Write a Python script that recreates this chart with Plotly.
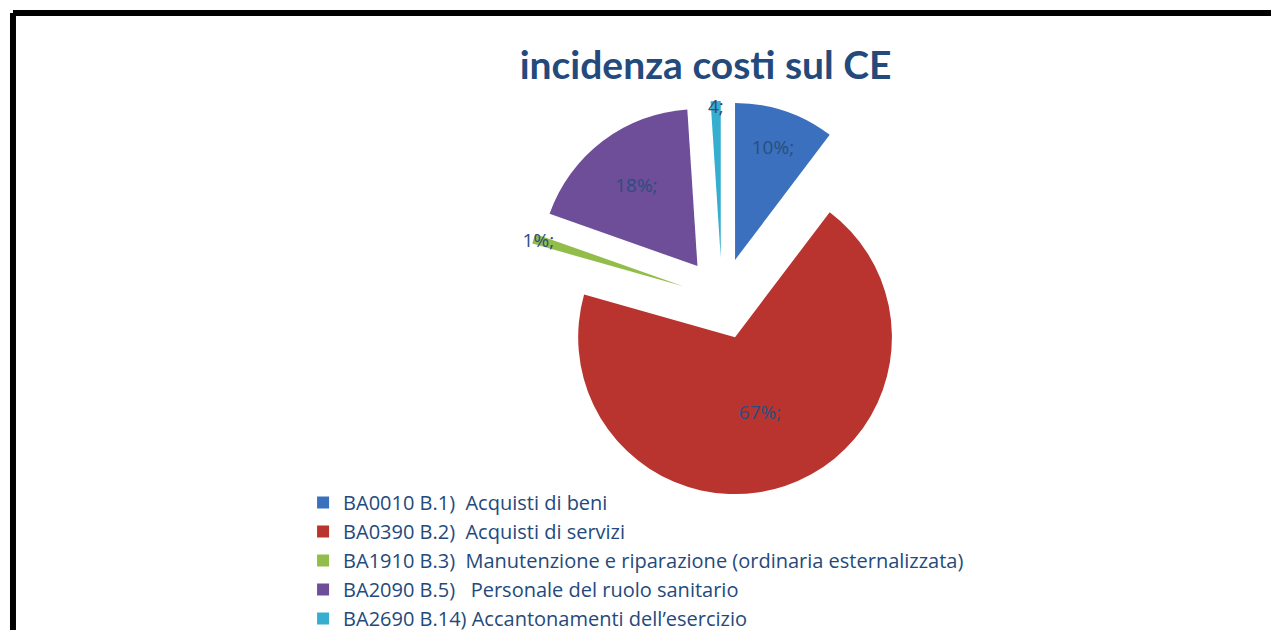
import plotly.graph_objects as go

# Data
categories = [
    "BA0010 B.1)\u00a0 Acquisti di beni",
    "BA0390 B.2)\u00a0 Acquisti di servizi",
    "BA1910 B.3)\u00a0 Manutenzione e riparazione (ordinaria esternalizzata)",
    "BA2090 B.5)\u00a0\u00a0 Personale del ruolo sanitario",
    "BA2690 B.14) Accantonamenti dell\u2019esercizio",
]
values = [10, 67, 1, 18, 1]
data_labels = ["10%;", "67%;", "1%;", "18%;", "4;"]
colors = ["#3A70BD", "#B9342F", "#93BD4A", "#6E4E98", "#35AECF"]

DARK_BLUE = "#244A7C"

fig = go.Figure()

fig.add_trace(go.Pie(
    labels=categories,
    values=values,
    text=data_labels,
    textinfo="text",
    textposition="inside",
    insidetextorientation="horizontal",
    textfont=dict(family="Open Sans", size=19, color="#2B4D80"),
    marker=dict(colors=colors, line=dict(width=0)),
    pull=[0.26] * len(values),
    sort=False,
    direction="clockwise",
    rotation=0,
    domain=dict(x=[0.4035, 0.7131], y=[0.2238, 0.8523]),
))

fig.update_layout(
    width=1279,
    height=630,
    margin=dict(l=0, r=0, t=0, b=0),
    paper_bgcolor="white",
    plot_bgcolor="white",
    title=dict(
        text="<b>incidenza costi sul CE</b>",
        font=dict(family="Lato", size=39, color=DARK_BLUE),
        x=0.5454, xanchor="center",
        y=0.9095, yanchor="middle",
    ),
    uniformtext=dict(minsize=19, mode="show"),
    legend=dict(
        x=0.2307, xanchor="left",
        y=0.2445, yanchor="top",
        font=dict(family="Open Sans", size=20, color=DARK_BLUE),
        bgcolor="rgba(0,0,0,0)",
        itemclick=False,
    ),
    showlegend=True,
)

# black frame (only top and left edges are visible)
fig.add_shape(type="line", xref="paper", yref="paper",
              x0=0.0039, x1=1.0, y0=0.9921, y1=0.9921,
              line=dict(color="black", width=6))
fig.add_shape(type="line", xref="paper", yref="paper",
              x0=0.0039, x1=0.0039, y0=0.0, y1=0.9921,
              line=dict(color="black", width=6))

fig.write_html("out.html")
